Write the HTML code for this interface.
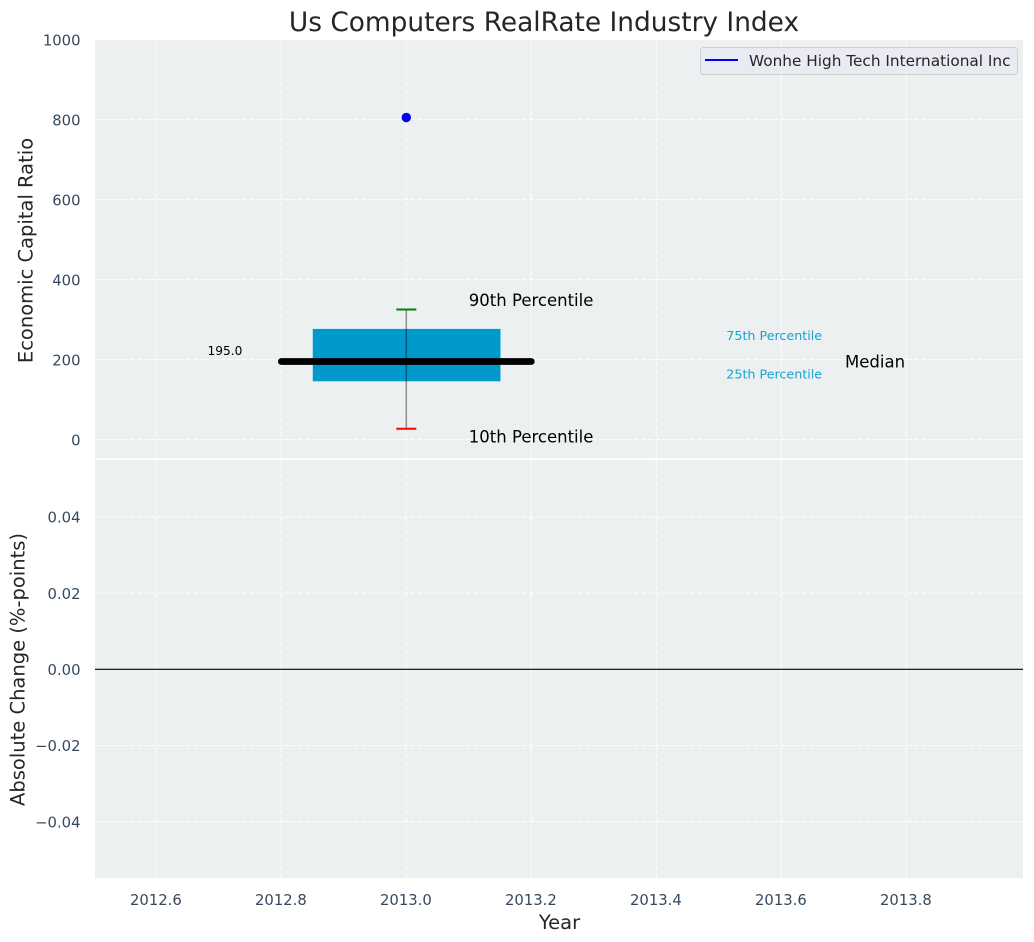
<!DOCTYPE html>
<html lang="en">
<head>
<meta charset="utf-8">
<title>Us Computers RealRate Industry Index</title>
<style>
html,body{margin:0;padding:0;background:#fff;width:1034px;height:942px;overflow:hidden}
svg{display:block;font-family:"DejaVu Sans","Liberation Sans",sans-serif}
</style>
</head>
<body>
<svg id="chart" xmlns="http://www.w3.org/2000/svg" width="1034" height="942" viewBox="0 0 1034 942">
  <rect x="95" y="40" width="928" height="418.5" fill="#ecf0f1"/>
  <rect x="95" y="460" width="928" height="418" fill="#ecf0f1"/>
  <g id="grid"></g>
  <g id="marks"></g>
  <g id="ticks"></g>
  <g id="notes"></g>
  <text x="544" y="31" text-anchor="middle" font-size="26.4" fill="#262626">Us Computers RealRate Industry Index</text>
  <text transform="translate(32.5 250.5) rotate(-90)" text-anchor="middle" font-size="19.5" fill="#262626">Economic Capital Ratio</text>
  <text transform="translate(24.5 669.5) rotate(-90)" text-anchor="middle" font-size="19.5" fill="#262626">Absolute Change (%-points)</text>
  <text x="559.5" y="929" text-anchor="middle" font-size="19.5" fill="#262626">Year</text>
  <g>
    <rect x="700.5" y="47.5" width="317" height="27" rx="3" ry="3" fill="#eaeaf2" fill-opacity="0.9" stroke="#cccccc" stroke-opacity="0.9" stroke-width="1"/>
    <line x1="705" y1="60" x2="738" y2="60" stroke="#0000ff" stroke-width="2"/>
    <text x="749" y="66" font-size="15.3" fill="#262626">Wonhe High Tech International Inc</text>
  </g>
</svg>
<script>
// Chart data
const xTickValues = [2012.6, 2012.8, 2013.0, 2013.2, 2013.4, 2013.6, 2013.8];
const xTickLabels = ['2012.6', '2012.8', '2013.0', '2013.2', '2013.4', '2013.6', '2013.8'];
const topYTicks = [0, 200, 400, 600, 800, 1000];
const topYTickLabels = ['0', '200', '400', '600', '800', '1000'];
const bottomYTicks = [-0.04, -0.02, 0, 0.02, 0.04];
const bottomYTickLabels = ['\u22120.04', '\u22120.02', '0.00', '0.02', '0.04'];
const boxYear = [2013];
const boxHalfWidth = [0.15];
const medianHalfWidth = [0.2];
const capHalfWidth = [0.016];
const p10 = [27];
const p25 = [145];
const median = [195];
const p75 = [277];
const p90 = [325];
const companyYears = [2013];
const companyValues = [805];
const zeroChange = [0];

// Axis functions
const NS = 'http://www.w3.org/2000/svg';
const xScale = v => 406.3 + (v - 2013) * 625;
const yTop = v => 439.5 - v * 0.4;
const yBottom = v => 669.3 - v * 3810;
const PLOT_LEFT = 95, PLOT_RIGHT = 1023;

function make(parent, tag, props, text) {
  const node = document.createElementNS(NS, tag);
  for (const k in props) node.setAttribute(k, props[k]);
  if (text !== undefined) node.textContent = text;
  document.getElementById(parent).appendChild(node);
  return node;
}
const gridStyle = {stroke: '#ffffff', 'stroke-width': 1.1, 'stroke-dasharray': '5 2', 'stroke-opacity': 0.85};

// Grid
xTickValues.forEach(v => {
  const a = make('grid', 'line', {x1: xScale(v), x2: xScale(v), y1: 40, y2: 458.5, ...gridStyle});
  
  
  const b = make('grid', 'line', {x1: xScale(v), x2: xScale(v), y1: 460, y2: 878, ...gridStyle});
  
  
});
topYTicks.forEach(v => {
  const g = make('grid', 'line', {x1: PLOT_LEFT, x2: PLOT_RIGHT, y1: yTop(v), y2: yTop(v), ...gridStyle});
  
  
});
bottomYTicks.forEach(v => {
  const g = make('grid', 'line', {x1: PLOT_LEFT, x2: PLOT_RIGHT, y1: yBottom(v), y2: yBottom(v), ...gridStyle});
  
  
});

// Tick labels
const tickColor = '#34495e';
xTickValues.forEach((v, i) => {
  const t = make('ticks', 'text', {x: xScale(v) - 0.4, y: 905, 'text-anchor': 'middle', 'font-size': 14.8, fill: tickColor}, xTickLabels[i]);
  
  
});
topYTicks.forEach((v, i) => {
  const t = make('ticks', 'text', {x: 80.5, y: yTop(v) + 6, 'text-anchor': 'end', 'font-size': 14.8, fill: tickColor}, topYTickLabels[i]);
  
  
});
bottomYTicks.forEach((v, i) => {
  const t = make('ticks', 'text', {x: 80.5, y: yBottom(v) + 5.7, 'text-anchor': 'end', 'font-size': 14.8, fill: tickColor}, bottomYTickLabels[i]);
  
  
});

// Separator between the panels
const sep = make('marks', 'rect', {x: PLOT_LEFT, y: 458.3, width: PLOT_RIGHT - PLOT_LEFT, height: 1.9, fill: '#ffffff'});



// Box
const bx = boxYear[0];
const box = make('marks', 'rect', {
  x: xScale(bx - boxHalfWidth[0]),
  y: yTop(p75[0]),
  width: xScale(bx + boxHalfWidth[0]) - xScale(bx - boxHalfWidth[0]) + 0.6,
  height: yTop(p25[0]) - yTop(p75[0]),
  fill: '#0099cc', stroke: '#bfe5f2', 'stroke-width': 0.6
});



// Whisker
const whisker = make('marks', 'line', {x1: xScale(bx), x2: xScale(bx), y1: yTop(p90[0]), y2: yTop(p10[0]), stroke: '#000000', 'stroke-opacity': 0.42, 'stroke-width': 1.5});


const capHigh = make('marks', 'line', {x1: xScale(bx - capHalfWidth[0]), x2: xScale(bx + capHalfWidth[0]), y1: yTop(p90[0]), y2: yTop(p90[0]), stroke: '#008000', 'stroke-width': 2});


const capLow = make('marks', 'line', {x1: xScale(bx - capHalfWidth[0]), x2: xScale(bx + capHalfWidth[0]), y1: yTop(p10[0]), y2: yTop(p10[0]), stroke: '#ff0000', 'stroke-width': 2});



// Median
const med = make('marks', 'line', {x1: xScale(bx - medianHalfWidth[0]), x2: xScale(bx + medianHalfWidth[0]), y1: yTop(median[0]), y2: yTop(median[0]), stroke: '#000000', 'stroke-width': 6.7, 'stroke-linecap': 'round'});



// Company point
companyYears.forEach((yr, i) => {
  const p = make('marks', 'circle', {cx: xScale(yr), cy: yTop(companyValues[i]), r: 4.7, fill: '#0000ff'});
  
  
});

// Zero reference line
const zero = make('marks', 'line', {x1: PLOT_LEFT, x2: PLOT_RIGHT, y1: yBottom(zeroChange[0]), y2: yBottom(zeroChange[0]), stroke: '#000000', 'stroke-width': 1.2});



// Annotations
const n90 = make('notes', 'text', {x: xScale(2013.1), y: yTop(p90[0]) - 3.5, 'font-size': 16.5, fill: '#000000'}, '90th Percentile');


const n10 = make('notes', 'text', {x: xScale(2013.1), y: yTop(p10[0]) + 14, 'font-size': 16.5, fill: '#000000'}, '10th Percentile');


const n75 = make('notes', 'text', {x: xScale(2013.512), y: yTop(p75[0]) + 11.5, 'font-size': 12.7, fill: '#0099cc', 'fill-opacity': 0.9}, '75th Percentile');


const n25 = make('notes', 'text', {x: xScale(2013.512), y: yTop(p25[0]) - 3, 'font-size': 12.7, fill: '#0099cc', 'fill-opacity': 0.9}, '25th Percentile');


const nMed = make('notes', 'text', {x: xScale(2013.702), y: yTop(median[0]) + 6, 'font-size': 16.5, fill: '#000000'}, 'Median');


const nVal = make('notes', 'text', {x: xScale(2012.682), y: yTop(median[0]) - 6.5, 'font-size': 12.2, fill: '#000000'}, median[0].toFixed(1));


</script>
</body>
</html>
